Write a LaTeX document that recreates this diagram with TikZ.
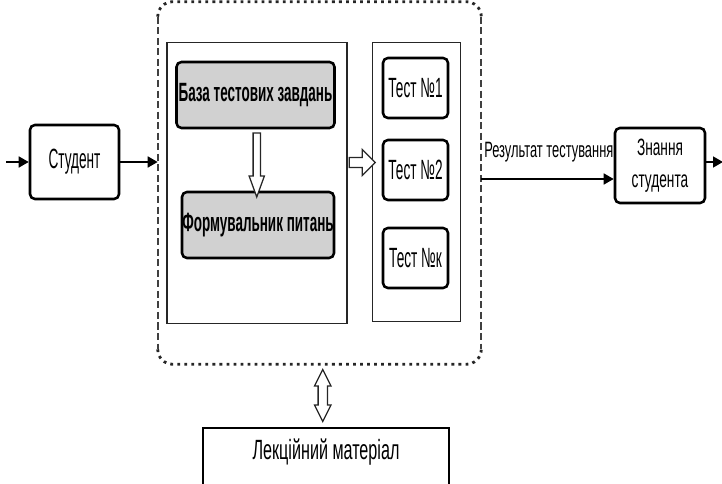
\documentclass[tikz,border=0pt]{standalone}
\usepackage{fontspec}
\setmainfont{Liberation Sans}[FakeStretch=0.49]
\newfontfamily\headfont{Liberation Sans}[FakeStretch=0.51]
\newfontfamily\widefont{Liberation Sans}[FakeStretch=0.58]
\usetikzlibrary{arrows.meta,positioning,shapes.arrows,calc}
\tikzset{
  blk/.style={draw=black, line width=1.8pt, rounded corners=3.5pt, fill=white, inner sep=0pt, align=center, font=\fontsize{19.8}{22}\selectfont},
  greyblk/.style={blk, fill=black!18, font=\headfont\bfseries\fontsize{18.8}{21}\selectfont},
  panel/.style={draw=black!85, line width=1.2pt, inner sep=0pt},
  dotrim/.style={draw=black!85, line width=2pt, dash pattern=on 2pt off 3pt},
  dashrim/.style={draw=black!75, line width=1.4pt, dash pattern=on 5pt off 2.5pt},
  flow/.style={-{Triangle[length=2.5mm,width=2.7mm]}, line width=1.5pt},
  hollow/.style={single arrow, draw=black!85, line width=0.9pt, fill=white, single arrow head indent=0pt},
  hollowtwo/.style={double arrow, draw=black!85, line width=0.9pt, fill=white, double arrow head indent=0pt},
  lbl/.style={font=\widefont\fontsize{15.8}{18}\selectfont, inner sep=0pt}
}
\begin{document}
\begin{tikzpicture}[x=0.25mm, y=-0.25mm]
\useasboundingbox (0,0) rectangle (722,484);
% dotted frame round the test generator
\node[minimum width=80.75mm, minimum height=90.5mm, inner sep=0pt] (frame) at (319.5,183) {};
\draw[dotrim, rounded corners=3.75mm] ([yshift=-3.75mm]frame.north west) |- (frame.north) -| ([yshift=-3.75mm]frame.north east);
\draw[dotrim, rounded corners=3.75mm] ([yshift=3.75mm]frame.south west) |- (frame.south) -| ([yshift=3.75mm]frame.south east);
\draw[dashrim] ([yshift=-3.75mm]frame.north west) -- ([yshift=3.75mm]frame.south west);
\draw[dashrim] ([yshift=-3.75mm]frame.north east) -- ([yshift=3.75mm]frame.south east);

% panels
\node[panel, minimum width=45mm, minimum height=70.25mm] (gen) at (257,183) {};
\node[panel, minimum width=22mm, minimum height=69.75mm] (tests) at (416.5,182) {};

\node[greyblk, minimum width=39.5mm, minimum height=16.5mm] (base) at (255.5,95) {База тестових завдань};
\node[greyblk, minimum width=38mm, minimum height=16.5mm] (former) at (258,225) {Формувальник питань};

\node[blk, minimum width=16.25mm, minimum height=15mm] (t1) at (415.5,88) {Тест №1};
\node[blk, minimum width=16.25mm, minimum height=15mm] (t2) at (415.5,170) {Тест №2};
\node[blk, minimum width=16.25mm, minimum height=15mm] (tk) at (415.5,258) {Тест №к};

\node[blk, minimum width=22.25mm, minimum height=18.5mm] (stud) at (74.5,162) {Студент};
\node[blk, minimum width=22.5mm, minimum height=18.75mm, font=\widefont\fontsize{16.8}{23}\selectfont] (know) at (660,165.5) {Знання\\студента};
\node[panel, line width=1.8pt, draw=black, minimum width=61.5mm, minimum height=18mm] (lect) at (326,464) {};
\node[font=\widefont\fontsize{19.8}{22}\selectfont] (lecttxt) at (326,452) {Лекційний матеріал};

% hollow arrows
\node[hollow, rotate=-90, minimum height=16mm, inner sep=0.75mm, single arrow head extend=1mm, single arrow tip angle=40] (down) at ($(base.south)!0.5!(former.north)$) {};
\node[hollow, minimum height=6.5mm, inner sep=1.1mm, single arrow head extend=2mm, single arrow tip angle=90] (pass) at ($(gen.east |- 0,162.5)!0.5!(tests.west |- 0,162.5)$) {};
\node[hollowtwo, rotate=90, minimum height=13mm, inner sep=1mm, double arrow head extend=0.9mm, double arrow tip angle=53] (link) at ($(frame.south)!0.5!(lect.north)$) {};

% flow arrows
\coordinate (inlet) at (6,162);
\coordinate (res) at (481,179);
\coordinate (outlet) at (723,162);
\draw[flow] (inlet) -- (stud.west);
\draw[flow] (stud.east) -- (stud.east -| frame.west);
\draw[flow] (res) -- (res -| know.west);
\draw[flow] (know.east |- outlet) -- (outlet);
\node[lbl, anchor=west] (reslbl) at (484,152) {Результат тестування};
\end{tikzpicture}
\end{document}
